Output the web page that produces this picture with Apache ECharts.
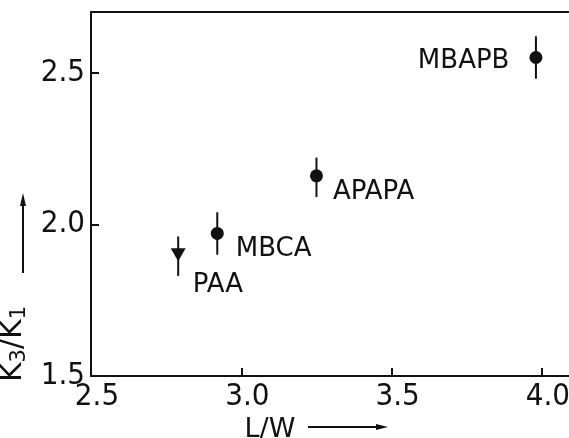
<!DOCTYPE html>
<html>
<head>
<meta charset="utf-8">
<script src="https://cdn.jsdelivr.net/npm/echarts@6/dist/echarts.min.js"></script>
<style>
  html, body { margin: 0; padding: 0; background: #fff; }
  #chart { width: 569px; height: 438px; }
</style>
</head>
<body>
<div id="chart"></div>
<script>
// values
const compounds = ['PAA', 'MBCA', 'APAPA', 'MBAPB'];
const lengthRatio = [2.79, 2.92, 3.25, 3.98];
const k3k1 = [1.90, 1.97, 2.16, 2.55];
const errLow = [1.83, 1.90, 2.09, 2.48];
const errHigh = [1.96, 2.04, 2.22, 2.62];
const markers = ['down', 'dot', 'dot', 'dot'];
const xTicks = [2.5, 3.0, 3.5, 4.0];
const yTicks = [1.5, 2.0, 2.5];

const ink = '#111';
const tickFont = "'Liberation Sans Narrow', 'DejaVu Sans Condensed', 'DejaVu Sans', sans-serif";
const textFont = "'DejaVu Sans', sans-serif";

// where each name sits next to its point
const labelPlace = {
    PAA: { position: 'right', offset: [2, 31] },
    MBCA: { position: 'right', offset: [7, 16] },
    APAPA: { position: 'right', offset: [5, 16] },
    MBAPB: { position: 'left', offset: [-15, 4] }
};

const chart = echarts.init(document.getElementById('chart'));

const axisCommon = {
    axisLine: { show: true, onZero: false, lineStyle: { color: ink, width: 2 } },
    axisTick: { show: true, inside: true, length: 8, lineStyle: { color: ink, width: 2 } },
    splitLine: { show: false },
    axisLabel: {
        color: ink, fontFamily: tickFont, fontSize: 31, margin: 6,
        showMaxLabel: false,
        formatter: v => v.toFixed(1)
    }
};

const option = {
    animation: false,
    backgroundColor: '#fff',
    grid: { left: 91, right: 0, top: 12, bottom: 62, containLabel: false, outerBoundsMode: 'none' },
    xAxis: [
        {
            ...axisCommon,
            type: 'value',
            min: xTicks[0],
            max: 4.09,
            interval: 0.5,
            axisLabel: { ...axisCommon.axisLabel, margin: 5, padding: [0, 0, 0, 12] },
            name: 'L/W',
            nameLocation: 'middle',
            nameGap: 36,
            nameTextStyle: { color: ink, fontFamily: textFont, fontSize: 27, padding: [0, 120, 0, 0] }
        },
        {
            type: 'value',
            position: 'top',
            min: xTicks[0],
            max: 4.09,
            axisLine: { show: true, lineStyle: { color: ink, width: 2 } },
            axisTick: { show: false },
            axisLabel: { show: false },
            splitLine: { show: false }
        }
    ],
    yAxis: {
        ...axisCommon,
        type: 'value',
        min: yTicks[0],
        max: 2.7,
        interval: 0.5,
        name: 'K{sub|3}/K{sub|1}',
        nameLocation: 'middle',
        nameRotate: 90,
        nameGap: 44,
        nameTextStyle: {
            color: ink,
            fontFamily: textFont,
            fontSize: 30,
            padding: [0, 300, 0, 0],
            rich: {
                sub: { fontFamily: textFont, fontSize: 21, color: ink, padding: [12, 0, 0, 0] }
            }
        }
    },
    graphic: [
        // axis name arrows
        { type: 'line', shape: { x1: 308, y1: 427, x2: 380, y2: 427 }, style: { stroke: ink, lineWidth: 2 } },
        { type: 'polygon', shape: { points: [[376, 424], [388, 427], [376, 430]] }, style: { fill: ink } },
        { type: 'line', shape: { x1: 23, y1: 273, x2: 23, y2: 204 }, style: { stroke: ink, lineWidth: 2 } },
        { type: 'polygon', shape: { points: [[20, 206], [23, 193], [26, 206]] }, style: { fill: ink } }
    ],
    series: [
        {
            type: 'custom',
            name: 'error',
            data: lengthRatio.map((x, i) => [x, errLow[i], errHigh[i]]),
            renderItem: (params, api) => {
                const x = api.value(0);
                const lo = api.coord([x, api.value(1)]);
                const hi = api.coord([x, api.value(2)]);
                return {
                    type: 'line',
                    shape: { x1: lo[0], y1: lo[1], x2: hi[0], y2: hi[1] },
                    style: { stroke: ink, lineWidth: 2 }
                };
            },
            z: 2
        },
        {
            type: 'scatter',
            z: 3,
            data: compounds.map((name, i) => ({
                name: name,
                value: [lengthRatio[i], k3k1[i]],
                symbol: markers[i] === 'down' ? 'triangle' : 'circle',
                symbolSize: markers[i] === 'down' ? [15, 13] : 13,
                symbolRotate: markers[i] === 'down' ? 180 : 0,
                label: {
                    show: true,
                    formatter: name,
                    position: labelPlace[name].position,
                    offset: labelPlace[name].offset,
                    color: ink,
                    fontFamily: textFont,
                    fontSize: 26
                }
            })),
            itemStyle: { color: ink, opacity: 1 }
        }
    ]
};

chart.setOption(option);
</script>
</body>
</html>
